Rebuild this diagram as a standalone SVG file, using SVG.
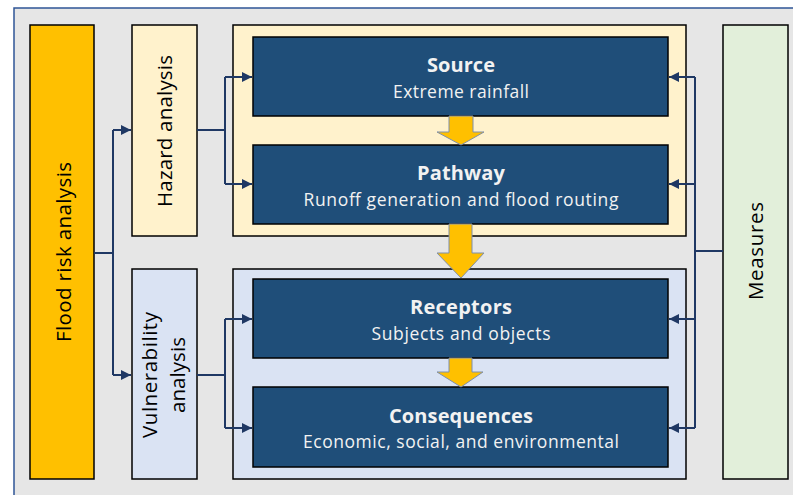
<svg xmlns="http://www.w3.org/2000/svg" width="793" height="495" viewBox="0 0 793 495">
<defs>
<style>
.box{stroke:#000;stroke-width:1.5}
.dark{fill:#1f4e79;stroke:#000;stroke-width:1.5}
.t{font-family:"Open Sans","Liberation Sans",sans-serif;fill:#000}
.h{font-family:"Open Sans","Liberation Sans",sans-serif;font-weight:bold;font-size:20px;fill:#f2f2f2;text-anchor:middle}
.s{font-family:"Open Sans","Liberation Sans",sans-serif;font-size:17.5px;fill:#f2f2f2;text-anchor:middle}
.v{font-size:20.5px;text-anchor:middle}
.c{fill:none;stroke:#1f3864;stroke-width:2}
.ya{fill:#ffc000;stroke:#7f8fa9;stroke-width:1}
</style>
<marker id="ah" viewBox="0 0 10 10" refX="10" refY="5" markerWidth="5" markerHeight="5" orient="auto" markerUnits="strokeWidth">
<path d="M0,0 L10,5 L0,10 z" fill="#1f3864"/>
</marker>
</defs>
<rect x="0" y="0" width="793" height="495" fill="#ffffff"/>
<rect x="14" y="8" width="790" height="500" fill="#e6e6e6" stroke="#2f5597" stroke-width="1.5"/>

<g id="flood-risk">
<rect class="box" x="30" y="25" width="64" height="454" fill="#ffc000"/>
<text class="t v" transform="translate(71,252) rotate(-90)" textLength="180">Flood risk analysis</text>
</g>
<g id="hazard">
<rect class="box" x="132" y="25" width="65" height="211" fill="#fff2cc"/>
<text class="t v" transform="translate(172,131) rotate(-90)" textLength="152">Hazard analysis</text>
</g>
<g id="vulnerability">
<rect class="box" x="132" y="269" width="65" height="210" fill="#dae3f3"/>
<text class="t v" transform="translate(157,375) rotate(-90)" textLength="126">Vulnerability</text>
<text class="t v" transform="translate(185,375) rotate(-90)" textLength="76">analysis</text>
</g>
<g id="hazard-group">
<rect class="box" x="233" y="25" width="453" height="211" fill="#fff2cc"/>
</g>
<g id="vulnerability-group">
<rect class="box" x="233" y="269" width="453" height="210" fill="#dae3f3"/>
</g>
<g id="measures">
<rect class="box" x="723" y="25" width="65" height="454" fill="#e2efda"/>
<text class="t v" transform="translate(763,251) rotate(-90)" textLength="98">Measures</text>
</g>
<g id="source">
<rect class="dark" x="253" y="37" width="415" height="79"/>
<text class="h" x="461" y="72" textLength="68">Source</text>
<text class="s" x="461" y="98" textLength="136">Extreme rainfall</text>
</g>
<g id="pathway">
<rect class="dark" x="253" y="145" width="415" height="79"/>
<text class="h" x="461" y="180" textLength="88">Pathway</text>
<text class="s" x="461" y="206" textLength="315">Runoff generation and flood routing</text>
</g>
<g id="receptors">
<rect class="dark" x="253" y="279" width="415" height="79"/>
<text class="h" x="461" y="314" textLength="102">Receptors</text>
<text class="s" x="461" y="340" textLength="179">Subjects and objects</text>
</g>
<g id="consequences">
<rect class="dark" x="253" y="387" width="415" height="80"/>
<text class="h" x="461" y="423" textLength="144">Consequences</text>
<text class="s" x="461" y="448" textLength="316">Economic, social, and environmental</text>
</g>

<g id="connectors">
<path class="ya" d="M449,116 H473 V132 H484 L461,145 L437,132 H449 Z"/>
<path class="ya" d="M449,224 H472 V253 H484 L461,278 L437,253 H449 Z"/>
<path class="ya" d="M449,358 H472 V372 H483 L461,387 L437,372 H449 Z"/>

<path class="c" d="M94,253 H113"/>
<path class="c" d="M113,130 V375"/>
<path class="c" d="M113,130 H131" marker-end="url(#ah)"/>
<path class="c" d="M113,375 H131" marker-end="url(#ah)"/>

<path class="c" d="M197,130 H225"/>
<path class="c" d="M225,77 V184"/>
<path class="c" d="M225,77 H252" marker-end="url(#ah)"/>
<path class="c" d="M225,184 H252" marker-end="url(#ah)"/>

<path class="c" d="M197,375 H225"/>
<path class="c" d="M225,319 V428"/>
<path class="c" d="M225,319 H252" marker-end="url(#ah)"/>
<path class="c" d="M225,428 H252" marker-end="url(#ah)"/>

<path class="c" d="M723,251 H695"/>
<path class="c" d="M695,77 V428"/>
<path class="c" d="M695,77 H669" marker-end="url(#ah)"/>
<path class="c" d="M695,184 H669" marker-end="url(#ah)"/>
<path class="c" d="M695,319 H669" marker-end="url(#ah)"/>
<path class="c" d="M695,428 H669" marker-end="url(#ah)"/>
</g>
</svg>
